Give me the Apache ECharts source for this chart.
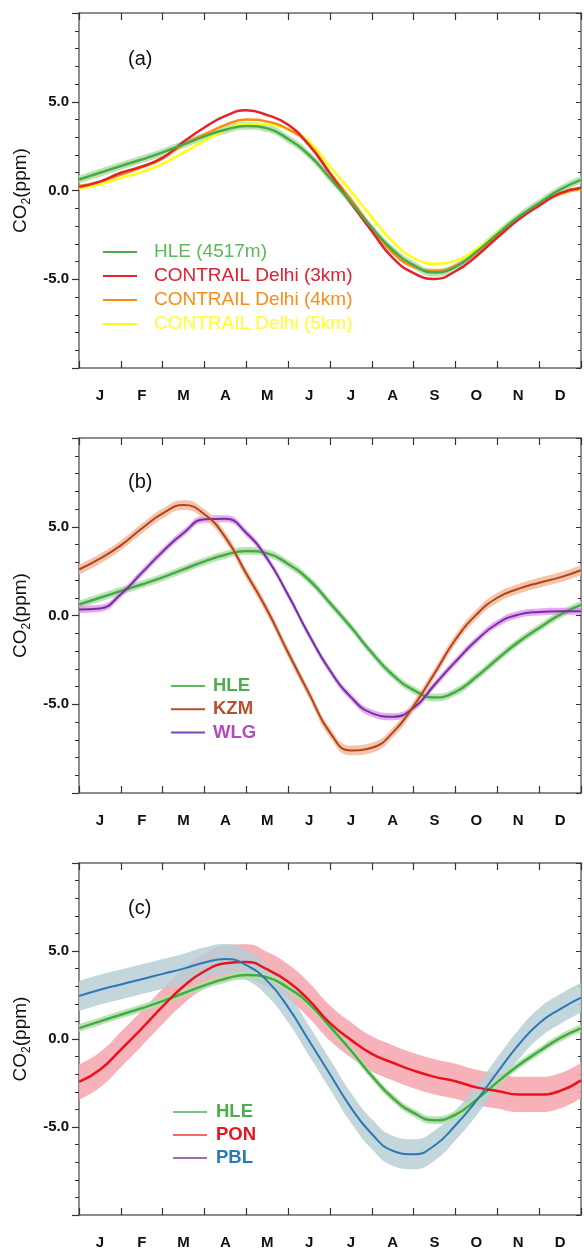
<!DOCTYPE html>
<html>
<head>
<meta charset="utf-8">
<script src="https://cdn.jsdelivr.net/npm/echarts@6/dist/echarts.min.js"></script>
<style>
html,body{margin:0;padding:0;background:#fff;}
#chart{width:584px;height:1250px;}
</style>
</head>
<body>
<div id="chart"></div>
<script>
// ---- DATA (values read at half-month steps, Jan 1 .. Dec 31) ----
const months = ['J','F','M','A','M','J','J','A','S','O','N','D'];
const yTicks = [-5, 0, 5];

const hle   = [0.62,1.0,1.38,1.75,2.15,2.6,3.05,3.42,3.64,3.5,2.9,2.0,0.7,-0.65,-2.1,-3.35,-4.2,-4.62,-4.3,-3.45,-2.45,-1.5,-0.7,0.05,0.6];
const del3  = [0.2,0.5,1.0,1.35,1.85,2.75,3.55,4.2,4.52,4.25,3.7,2.55,0.95,-0.7,-2.3,-3.8,-4.65,-4.98,-4.55,-3.7,-2.65,-1.65,-0.85,-0.15,0.15];
const del4  = [0.25,0.5,0.9,1.3,1.8,2.6,3.15,3.7,4.0,3.88,3.45,2.6,1.0,-0.5,-2.1,-3.5,-4.3,-4.52,-4.25,-3.5,-2.6,-1.6,-0.8,-0.2,0.1];
const del5  = [0.1,0.35,0.7,1.05,1.5,2.15,2.8,3.4,3.75,3.72,3.45,2.75,1.35,-0.05,-1.5,-2.9,-3.8,-4.12,-3.95,-3.3,-2.4,-1.5,-0.75,-0.2,0.05];
const kzm   = [2.59,3.2,3.95,4.9,5.75,6.22,5.7,4.4,2.35,0.3,-2.1,-4.4,-6.6,-7.6,-7.45,-6.6,-5.1,-3.25,-1.35,0.05,1.0,1.5,1.85,2.15,2.55];
const wlg   = [0.34,0.4,1.2,2.4,3.6,4.65,5.42,5.45,4.65,3.2,1.15,-1.1,-3.1,-4.6,-5.5,-5.7,-5.2,-3.9,-2.6,-1.4,-0.45,0.05,0.2,0.24,0.24];
const pbl   = [2.44,2.8,3.1,3.4,3.7,4.0,4.35,4.55,4.2,3.3,1.8,-0.1,-2.0,-3.9,-5.4,-6.35,-6.55,-6.05,-4.9,-3.5,-1.9,-0.35,0.9,1.7,2.35];
const pon   = [-2.44,-1.75,-0.6,0.6,1.85,3.0,3.85,4.3,4.38,3.95,3.25,2.2,0.9,-0.05,-0.85,-1.35,-1.8,-2.15,-2.4,-2.75,-2.95,-3.15,-3.15,-2.95,-2.35];

// half-widths of the uncertainty bands (ppm)
const hleUnc = 0.22, kzmUnc = 0.28, wlgUnc = 0.2, pblUnc = 0.85, ponUnc = 1.0;

// ---- build ----
const FONT = '"Liberation Sans", Arial, sans-serif';
const xCats = [];
for (let i = 0; i <= 24; i++) xCats.push(i % 2 ? months[(i - 1) / 2] : '');

const gridTops = [13, 438, 863];
const grids = gridTops.map(t => ({left: 79, top: t, width: 503, height: 355}));

const AX = '#6a6a6a';
const xAxes = [], yAxes = [];
gridTops.forEach((t, g) => {
  xAxes.push({
    type: 'category', gridIndex: g, data: xCats, boundaryGap: false, position: 'bottom',
    axisLine: {onZero: false, lineStyle: {color: AX, width: 1.5}},
    axisTick: {inside: true, length: 7, interval: (i) => i % 2 === 0, lineStyle: {color: '#333', width: 1.2}},
    axisLabel: {interval: 0, margin: 20, fontSize: 15, fontWeight: 'bold', color: '#111', fontFamily: FONT},
    splitLine: {show: false}
  });
  xAxes.push({
    type: 'category', gridIndex: g, data: xCats, boundaryGap: false, position: 'top',
    axisLine: {onZero: false, lineStyle: {color: AX, width: 1.5}},
    axisTick: {inside: true, length: 7, interval: (i) => i % 2 === 0, lineStyle: {color: '#333', width: 1.2}},
    axisLabel: {show: false}, splitLine: {show: false}
  });
  yAxes.push({
    type: 'value', gridIndex: g, min: -10, max: 10, interval: 5, position: 'left',
    name: 'CO{s|2}(ppm)', nameLocation: 'middle', nameGap: 45,
    nameTextStyle: {fontSize: 19, color: '#111', fontFamily: FONT,
      rich: {s: {fontSize: 12, fontFamily: FONT, color: '#111', padding: [10, 0, 0, 0]}}},
    axisLine: {show: true, onZero: false, lineStyle: {color: AX, width: 1.5}},
    axisTick: {show: true, length: 7, lineStyle: {color: '#333', width: 1.2}},
    minorTick: {show: true, splitNumber: 5, length: 4, lineStyle: {color: '#333', width: 1}},
    axisLabel: {margin: 10, fontSize: 15, fontWeight: 'bold', color: '#111', fontFamily: FONT,
      formatter: v => (yTicks.indexOf(v) >= 0 ? v.toFixed(1) : '')},
    splitLine: {show: false}
  });
  yAxes.push({
    type: 'value', gridIndex: g, min: -10, max: 10, interval: 5, position: 'right',
    axisLine: {show: true, onZero: false, lineStyle: {color: AX, width: 1.5}},
    axisTick: {show: true, inside: true, length: 5, lineStyle: {color: '#333', width: 1}},
    minorTick: {show: true, splitNumber: 5, length: 3, lineStyle: {color: '#333', width: 1}},
    axisLabel: {show: false}, splitLine: {show: false}
  });
});

const series = [];
function band(id, vals, unc, color, opacity, g) {
  const lo = vals.map(v => v - unc);
  const w = vals.map(() => 2 * unc);
  series.push({type: 'line', name: id + '_lo', xAxisIndex: 2 * g, yAxisIndex: 2 * g, data: lo,
    stack: id, stackStrategy: 'all', smooth: true, symbol: 'none', lineStyle: {opacity: 0}, silent: true});
  series.push({type: 'line', name: id + '_band', xAxisIndex: 2 * g, yAxisIndex: 2 * g, data: w,
    stack: id, stackStrategy: 'all', smooth: true, symbol: 'none', lineStyle: {opacity: 0},
    areaStyle: {color: color, opacity: opacity}, silent: true});
}
function line(name, vals, color, g, width) {
  series.push({type: 'line', name: name, xAxisIndex: 2 * g, yAxisIndex: 2 * g, data: vals,
    smooth: true, symbol: 'none', lineStyle: {color: color, width: width || 2.5}, itemStyle: {color: color}});
}

// panel (a)
band('hleA', hle, hleUnc, '#b5e0ad', 0.9, 0);
line('CONTRAIL Delhi (5km)', del5, '#ffff10', 0);
line('CONTRAIL Delhi (4km)', del4, '#ff8a10', 0);
line('CONTRAIL Delhi (3km)', del3, '#e8202a', 0);
line('HLE (4517m)', hle, '#46ab46', 0);

// panel (b)
band('hleB', hle, hleUnc, '#b5e0ad', 0.9, 1);
band('wlgB', wlg, wlgUnc, '#e58ae8', 0.75, 1);
band('kzmB', kzm, kzmUnc, '#f2bb9c', 0.85, 1);
line('HLE', hle, '#46ab46', 1);
line('WLG', wlg, '#6b34a3', 1, 2);
line('KZM', kzm, '#b2431d', 1, 2);

// panel (c)
band('ponC', pon, ponUnc, '#f5a3ad', 0.85, 2);
band('pblC', pbl, pblUnc, '#b9cfd5', 0.85, 2);
band('hleC', hle, hleUnc, '#b5e0ad', 0.9, 2);
line('HLE', hle, '#46ab46', 2);
line('PON', pon, '#e8141c', 2);
line('PBL', pbl, '#2a78b8', 2, 2);

const legendBase = {orient: 'vertical', icon: 'rect', itemWidth: 34, itemHeight: 2, selectedMode: false};
const legends = [
  Object.assign({}, legendBase, {left: 98, top: 237, itemGap: 4,
    textStyle: {fontSize: 19, lineHeight: 20, fontFamily: FONT, padding: [0, 0, 0, 12]},
    data: [
      {name: 'HLE (4517m)', itemStyle: {color: '#4caf4c'}, textStyle: {color: '#5cb85c'}},
      {name: 'CONTRAIL Delhi (3km)', itemStyle: {color: '#e8202a'}, textStyle: {color: '#e02030'}},
      {name: 'CONTRAIL Delhi (4km)', itemStyle: {color: '#ff8a10'}, textStyle: {color: '#ff8a18'}},
      {name: 'CONTRAIL Delhi (5km)', itemStyle: {color: '#ffff10'}, textStyle: {color: '#ffff30'}}
    ]}),
  Object.assign({}, legendBase, {left: 166, top: 671, itemGap: 3.3,
    textStyle: {fontSize: 18.5, lineHeight: 20, fontWeight: 'bold', fontFamily: FONT, padding: [0, 0, 0, 3]},
    data: [
      {name: 'HLE', itemStyle: {color: '#5cbb5c'}, textStyle: {color: '#4cae4c'}},
      {name: 'KZM', itemStyle: {color: '#b8502c'}, textStyle: {color: '#b8502c'}},
      {name: 'WLG', itemStyle: {color: '#7a45b0'}, textStyle: {color: '#b648c0'}}
    ]}),
  Object.assign({}, legendBase, {left: 168, top: 1097, itemGap: 3,
    textStyle: {fontSize: 18.5, lineHeight: 20, fontWeight: 'bold', fontFamily: FONT, padding: [0, 0, 0, 4]},
    data: [
      {name: 'HLE', itemStyle: {color: '#7cc47c'}, textStyle: {color: '#4cae4c'}},
      {name: 'PON', itemStyle: {color: '#f06a6a'}, textStyle: {color: '#e8141c'}},
      {name: 'PBL', itemStyle: {color: '#9470b4'}, textStyle: {color: '#2a7ab8'}}
    ]})
];

const titles = [['(a)', 49], ['(b)', 472], ['(c)', 898]].map(([t, top]) => ({
  text: t, left: 128, top: top, padding: 0,
  textStyle: {fontSize: 20, fontWeight: 'normal', color: '#111', fontFamily: FONT}
}));

const chart = echarts.init(document.getElementById('chart'), null, {renderer: 'canvas'});
chart.setOption({
  animation: false,
  backgroundColor: '#fff',
  title: titles,
  legend: legends,
  grid: grids,
  xAxis: xAxes,
  yAxis: yAxes,
  series: series
});
</script>
</body>
</html>
